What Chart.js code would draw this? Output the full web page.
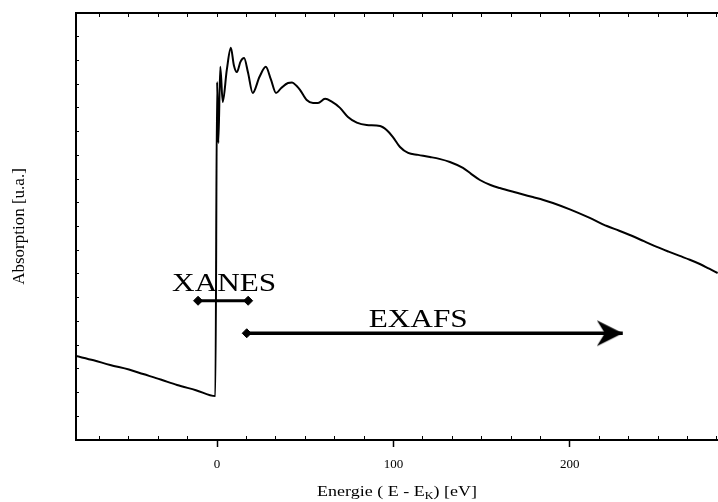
<!DOCTYPE html>
<html>
<head>
<meta charset="utf-8">
<script src="https://cdn.jsdelivr.net/npm/chart.js@4/dist/chart.umd.min.js"></script>
<style>
  html, body { margin: 0; padding: 0; background: #fff; overflow: hidden; }
  canvas { display: block; }
</style>
</head>
<body>
<canvas id="c" width="718" height="502"></canvas>
<script>
// ---- data ----
const energy = [
  -80, -70, -60.6, -50, -41.9, -32, -22.7, -12, -1.0,
  0.0, 0.7, 1.8, 3.2, 5.5, 7.8, 9.5, 11.2, 13.3, 15.3, 17.5, 20.2, 24.0, 27.6, 30.5, 33.4,
  36.5, 40.2, 42.5, 45.0, 47.0, 50.8, 54.4, 57.2, 61.2, 65.0, 69.7, 74.2, 79.2, 84.8,
  92.4, 96.1, 99.7, 103.7, 108.3, 114, 120.7, 126, 132.0, 139.4, 144, 149.0, 155,
  160.3, 170, 179.0, 185, 190.4, 200, 211.3, 221.0, 228, 234.0, 242, 249.3, 256,
  262.3, 268, 273.7, 279, 283.8
];
const absorption = [
  3.54, 3.36, 3.16, 2.97, 2.78, 2.55, 2.32, 2.10, 1.85,
  15.09, 12.52, 15.73, 14.25, 15.6, 16.53, 15.8, 15.51, 15.95, 16.10, 15.5, 14.63, 15.3, 15.73, 15.2, 14.63,
  14.85, 15.05, 15.07, 14.93, 14.76, 14.33, 14.21, 14.21, 14.38, 14.26, 14.00, 13.62, 13.38, 13.28,
  13.24, 13.07, 12.77, 12.35, 12.10, 12.02, 11.93, 11.85, 11.72, 11.47, 11.22, 10.96, 10.75,
  10.62, 10.42, 10.24, 10.12, 9.99, 9.72, 9.36, 9.02, 8.82, 8.64, 8.38, 8.14, 7.94,
  7.76, 7.60, 7.42, 7.22, 7.04
];
const xanesRange = [-10.8, 17.6];
const xanesLevel = 5.87;
const exafsRange = [16.8, 230];
const exafsLevel = 4.5;
const regionNames = ['XANES', 'EXAFS'];
const regionLabelX = [4, 114];
const regionLabelY = [6.28, 4.76];
const xRange = [-80, 284];
const yRange = [0, 18];
const xMajorStep = 100;
const xMinorStep = 100 / 6;
const xTitleParts = ['Energie ( E - E', 'K', ') [eV]'];
const yTitle = 'Absorption [u.a.]';

// ---- arrow head image used as a point style ----
const arrowHead = document.createElement('canvas');
arrowHead.width = 52; arrowHead.height = 28;
(function () {
  const g = arrowHead.getContext('2d');
  g.fillStyle = '#000';
  g.beginPath();
  g.moveTo(26, 14);
  g.lineTo(0, 1);
  g.lineTo(8, 14);
  g.lineTo(0, 27);
  g.closePath();
  g.fill();
})();

const serif = '"Liberation Serif", "Times New Roman", serif';
const isMajor = v => Math.abs(v - Math.round(v / xMajorStep) * xMajorStep) < 1e-6;

const textPlugin = {
  id: 'texts',
  afterDraw(chart) {
    const ctx = chart.ctx;
    const xs = chart.scales.x, ys = chart.scales.y;
    ctx.save();
    ctx.fillStyle = '#000';
    ctx.textBaseline = 'alphabetic';
    // region labels
    ctx.font = '25px ' + serif;
    regionNames.forEach((t, i) => {
      const px = xs.getPixelForValue(regionLabelX[i]);
      const py = ys.getPixelForValue(regionLabelY[i]);
      ctx.save();
      ctx.translate(px, py);
      ctx.scale(1.25, 1);
      ctx.textAlign = 'center';
      ctx.fillText(t, 0, 0);
      ctx.restore();
    });
    // x axis title with subscript
    const area = chart.chartArea;
    const big = '15px ' + serif, small = '10px ' + serif;
    ctx.font = big;
    const w0 = ctx.measureText(xTitleParts[0]).width;
    const w2 = ctx.measureText(xTitleParts[2]).width;
    ctx.font = small;
    const w1 = ctx.measureText(xTitleParts[1]).width;
    const total = w0 + w1 + w2;
    const cx = (area.left + area.right) / 2;
    const by = 496;
    ctx.save();
    ctx.translate(cx, by);
    ctx.scale(1.2, 1);
    ctx.textAlign = 'left';
    let x0 = -total / 2;
    ctx.font = big; ctx.fillText(xTitleParts[0], x0, 0); x0 += w0;
    ctx.font = small; ctx.fillText(xTitleParts[1], x0, 3); x0 += w1;
    ctx.font = big; ctx.fillText(xTitleParts[2], x0, 0);
    ctx.restore();
    ctx.restore();
  }
};

new Chart(document.getElementById('c'), {
  type: 'line',
  data: {
    datasets: [
      {
        data: energy.map((e, i) => ({ x: e, y: absorption[i] })),
        borderColor: '#000',
        borderWidth: 2,
        pointRadius: 0,
        cubicInterpolationMode: 'monotone',
        xAxisID: 'x', yAxisID: 'y'
      },
      {
        data: xanesRange.map(e => ({ x: e, y: xanesLevel })),
        borderColor: '#000',
        borderWidth: 3,
        pointStyle: 'rectRot',
        pointRadius: 4.5,
        pointBackgroundColor: '#000',
        pointBorderColor: '#000',
        pointBorderWidth: 1,
        xAxisID: 'x', yAxisID: 'y'
      },
      {
        data: exafsRange.map(e => ({ x: e, y: exafsLevel })),
        borderColor: '#000',
        borderWidth: 3.5,
        pointStyle: ['rectRot', arrowHead],
        pointRadius: 4.5,
        pointBackgroundColor: '#000',
        pointBorderColor: '#000',
        pointBorderWidth: 1,
        xAxisID: 'x', yAxisID: 'y'
      }
    ]
  },
  options: {
    responsive: false,
    animation: false,
    events: [],
    devicePixelRatio: 1,
    layout: { padding: 0, autoPadding: false },
    plugins: { legend: { display: false }, tooltip: { enabled: false } },
    scales: {
      x: {
        type: 'linear', position: 'bottom', weight: 0,
        min: xRange[0], max: xRange[1],
        ticks: { display: false, stepSize: xMinorStep, includeBounds: false, maxTicksLimit: 1000, autoSkip: false },
        grid: {
          display: true, drawOnChartArea: false, drawTicks: true, tickLength: -4, tickWidth: 1,
          tickColor: c => (c.tick && isMajor(c.tick.value)) ? 'rgba(0,0,0,0)' : '#000'
        },
        border: { display: true, color: '#000', width: 2 },
        afterFit: s => { s.height = 0; }
      },
      xMaj: {
        type: 'linear', position: 'bottom', weight: 1,
        min: xRange[0], max: xRange[1],
        ticks: {
          stepSize: xMajorStep, includeBounds: false, autoSkip: false, maxRotation: 0,
          color: '#000', font: { family: serif, size: 13 }, padding: 10
        },
        grid: { display: true, drawOnChartArea: false, drawTicks: true, tickLength: 7, tickWidth: 1.5, tickColor: '#000' },
        border: { display: false },
        afterFit: s => { s.height = 62; }
      },
      xTop: {
        type: 'linear', position: 'top',
        min: xRange[0], max: xRange[1],
        ticks: { display: false, stepSize: xMinorStep, includeBounds: false, maxTicksLimit: 1000, autoSkip: false },
        grid: { display: true, drawOnChartArea: false, drawTicks: true, tickLength: -4, tickWidth: 1, tickColor: '#000' },
        border: { display: true, color: '#000', width: 2 },
        afterFit: s => { s.height = 13; }
      },
      y: {
        type: 'linear', position: 'left',
        min: yRange[0], max: yRange[1],
        ticks: { display: false, stepSize: 1, includeBounds: false },
        grid: { display: true, drawOnChartArea: false, drawTicks: true, tickLength: -3, tickWidth: 1, tickColor: '#000' },
        border: { display: true, color: '#000', width: 2 },
        title: {
          display: true, text: yTitle, color: '#000',
          font: { family: serif, size: 17 }, padding: { top: 9, bottom: 0 }
        },
        afterFit: s => { s.width = 76; }
      }
    }
  },
  plugins: [textPlugin]
});
</script>
</body>
</html>
